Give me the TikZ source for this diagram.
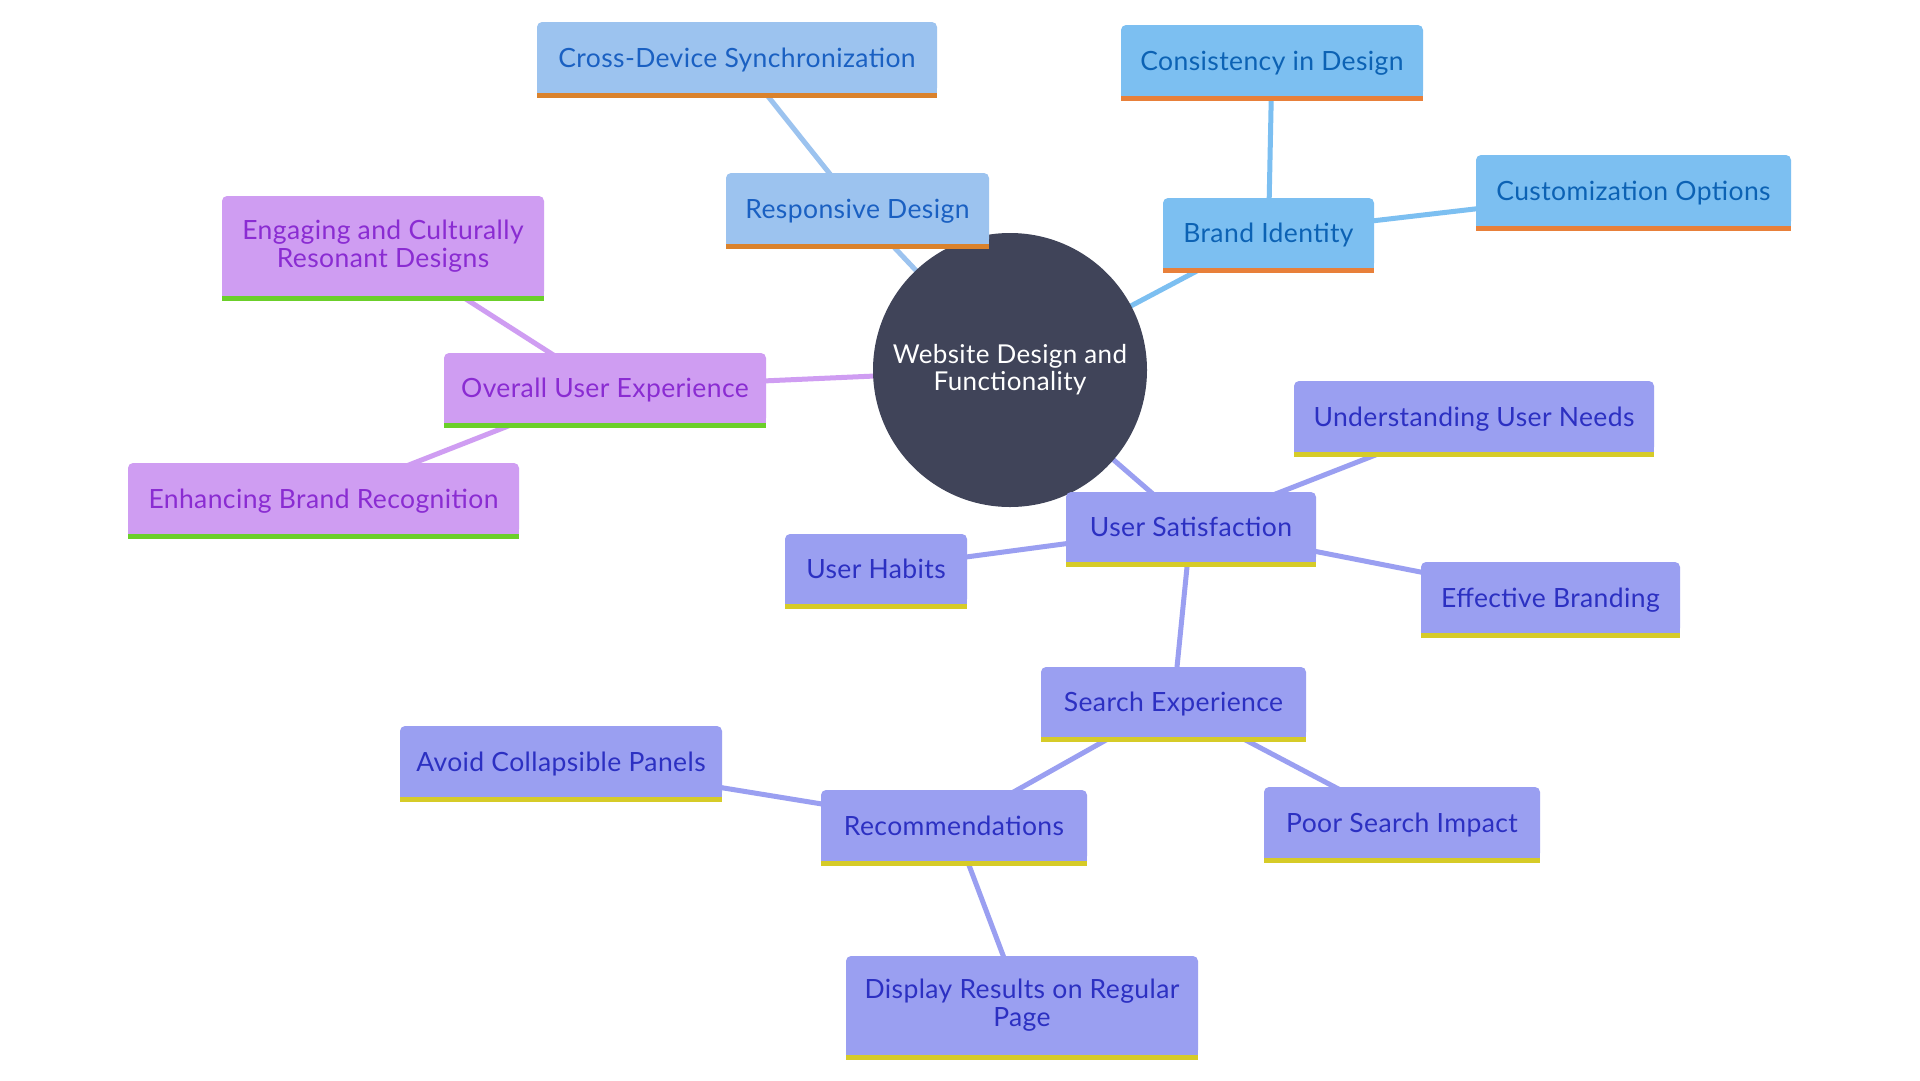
\documentclass[tikz,border=0pt]{standalone}
\usepackage{fontspec}
\setmainfont{Lato}[LetterSpace=1.5]
\definecolor{respfill}{HTML}{9CC3EF}
\definecolor{resptext}{HTML}{1A60C2}
\definecolor{skyfill}{HTML}{7CBFF1}
\definecolor{skytext}{HTML}{0C62B4}
\definecolor{purpfill}{HTML}{CF9DF2}
\definecolor{purptext}{HTML}{8A2CD2}
\definecolor{perifill}{HTML}{9A9FF1}
\definecolor{peritext}{HTML}{2C30C2}
\definecolor{barorange}{HTML}{DA822C}
\definecolor{barorange2}{HTML}{E8803A}
\definecolor{bargreen}{HTML}{6BCF2A}
\definecolor{baryellow}{HTML}{D6CB28}
\definecolor{hubfill}{HTML}{404459}
\pgfdeclarelayer{bg}
\pgfsetlayers{bg,main}
\begin{document}
\begin{tikzpicture}[x=1pt,y=-1pt,
  box/.style={rectangle, rounded corners=5pt, inner sep=0pt, align=center,
    font=\fontsize{26.5}{28}\selectfont},
  one/.style={text height=19pt, text depth=0pt},
  rbox/.style={box, fill=respfill, text=resptext},
  sbox/.style={box, fill=skyfill, text=skytext},
  pbox/.style={box, fill=purpfill, text=purptext},
  qbox/.style={box, fill=perifill, text=peritext},
  hub/.style={circle, fill=hubfill, text=white, inner sep=0pt, minimum size=274pt,
    align=center, font=\fontsize{26}{27}\selectfont},
  link/.style={line width=5pt},
  rlink/.style={link, draw=respfill},
  slink/.style={link, draw=skyfill},
  plink/.style={link, draw=purpfill},
  qlink/.style={link, draw=perifill}
]
\begin{pgfonlayer}{bg}
\fill[white] (0,0) rectangle (1920,1080);
\end{pgfonlayer}
\useasboundingbox (0,0) rectangle (1920,1080);

\node[hub] (hub) at (1010,370) {Website Design and\\Functionality};

\node[rbox, one, minimum width=400pt, minimum height=71pt] (cross) at (737,57.5) {Cross-Device Synchronization};
\node[rbox, one, minimum width=263pt, minimum height=71pt] (resp) at (857.5,208.5) {Responsive Design};

\node[sbox, one, minimum width=302pt, minimum height=71pt] (cons) at (1272,60.5) {Consistency in Design};
\node[sbox, one, minimum width=315pt, minimum height=71pt] (cust) at (1633.5,190.5) {Customization Options};
\node[sbox, one, minimum width=211pt, minimum height=70pt] (brand) at (1268.5,233) {Brand Identity};

\node[pbox, minimum width=322pt, minimum height=100pt] (engag) at (383,246) {Engaging and Culturally\\Resonant Designs};
\node[pbox, one, minimum width=322pt, minimum height=70pt] (overall) at (605,388) {Overall User Experience};
\node[pbox, one, minimum width=391pt, minimum height=71pt] (enh) at (323.5,498.5) {Enhancing Brand Recognition};

\node[qbox, one, minimum width=360pt, minimum height=71pt] (under) at (1474,416.5) {Understanding User Needs};
\node[qbox, one, minimum width=250pt, minimum height=70pt] (usat) at (1191,527) {User Satisfaction};
\node[qbox, one, minimum width=182pt, minimum height=70pt] (habits) at (876,569) {User Habits};
\node[qbox, one, minimum width=259pt, minimum height=71pt] (effb) at (1550.5,597.5) {Effective Branding};
\node[qbox, one, minimum width=265pt, minimum height=70pt] (search) at (1173.5,702) {Search Experience};
\node[qbox, one, minimum width=322pt, minimum height=71pt] (avoid) at (561,761.5) {Avoid Collapsible Panels};
\node[qbox, one, minimum width=266pt, minimum height=71pt] (rec) at (954,825.5) {Recommendations};
\node[qbox, one, minimum width=276pt, minimum height=71pt] (poor) at (1402,822.5) {Poor Search Impact};
\node[qbox, minimum width=352pt, minimum height=99pt] (disp) at (1022,1005.5) {Display Results on Regular\\Page};

\foreach \n/\f/\b in {cross/respfill/barorange, resp/respfill/barorange,
  cons/skyfill/barorange2, cust/skyfill/barorange2, brand/skyfill/barorange2,
  engag/purpfill/bargreen, overall/purpfill/bargreen, enh/purpfill/bargreen,
  under/perifill/baryellow, usat/perifill/baryellow, habits/perifill/baryellow,
  effb/perifill/baryellow, search/perifill/baryellow, avoid/perifill/baryellow,
  rec/perifill/baryellow, poor/perifill/baryellow, disp/perifill/baryellow}{
  \fill[\f] ([yshift=6pt]\n.south west) rectangle (\n.south east);
  \fill[\b] (\n.south west) rectangle ([yshift=-5pt]\n.south east);
}

\begin{pgfonlayer}{bg}
\draw[rlink] (hub.center) -- (resp.center);
\draw[rlink] (resp.center) -- (cross.center);
\draw[slink] (hub.center) -- (brand.center);
\draw[slink] (brand.center) -- (cons.center);
\draw[slink] (brand.center) -- (cust.center);
\draw[plink] (hub.center) -- (overall.center);
\draw[plink] (overall.center) -- (engag.center);
\draw[plink] (overall.center) -- (enh.center);
\draw[qlink] (hub.center) -- (usat.center);
\draw[qlink] (usat.center) -- (under.center);
\draw[qlink] (usat.center) -- (habits.center);
\draw[qlink] (usat.center) -- (effb.center);
\draw[qlink] (usat.center) -- (search.center);
\draw[qlink] (search.center) -- (rec.center);
\draw[qlink] (search.center) -- (poor.center);
\draw[qlink] (rec.center) -- (avoid.center);
\draw[qlink] (rec.center) -- (disp.center);
\end{pgfonlayer}
\end{tikzpicture}
\end{document}
